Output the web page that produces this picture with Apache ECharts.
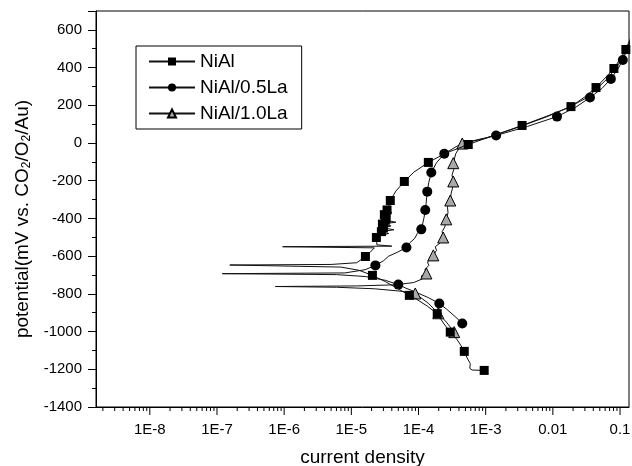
<!DOCTYPE html>
<html>
<head>
<meta charset="utf-8">
<script src="https://cdn.jsdelivr.net/npm/echarts@6/dist/echarts.min.js"></script>
<style>
  html, body { margin: 0; padding: 0; background: #fff; }
  #main { width: 632px; height: 466px; }
</style>
</head>
<body>
<div id="main"></div>
<script>
// polarisation curves, [current density, potential mV]
var niAl = [
  [9.5e-4,-1206],[6.3e-4,-1204],[5.8e-4,-1195],[5.9e-4,-1170],[5.3e-4,-1140],
  [4.8e-4,-1105],[4.3e-4,-1075],[3.7e-4,-1040],[2.97e-4,-1003],[2.4e-4,-960],
  [1.9e-4,-905],[1.35e-4,-865],[9.5e-5,-830],[7.3e-5,-808],[4.8e-5,-770],
  [3.2e-5,-735],[2.06e-5,-702],[1.3e-5,-675],[7e-6,-658],[1.55e-7,-647],
  [5e-6,-644],[1.2e-5,-635],[1.62e-5,-602],[1.9e-5,-580],[2.2e-5,-556],
  [9.5e-7,-550],[4.0e-5,-547],[2.4e-5,-540],[2.36e-5,-501],[2.7e-5,-490],
  [3.6e-5,-480],[2.8e-5,-470],[4.3e-5,-460],[3.0e-5,-450],[3.9e-5,-440],
  [2.9e-5,-430],[4.6e-5,-420],[3.2e-5,-410],[3.3e-5,-400],[3.8e-5,-390],
  [3.1e-5,-380],[4.0e-5,-370],[3.4e-5,-355],[3.6e-5,-335],[3.8e-5,-305],
  [4.6e-5,-255],[6.15e-5,-204],[8.5e-5,-155],[1.4e-4,-103],[2.5e-4,-55],
  [5.5e-4,-8],[1.2e-3,35],[3.48e-3,93],[8.5e-3,145],[1.86e-2,193],
  [3.0e-2,245],[4.39e-2,294],[6.0e-2,345],[8.1e-2,395],[0.10,445],
  [0.122,496],[0.145,560]
];
var niAlMarks = [0,5,8,10,13,16,22,28,31,33,35,37,38,40,42,44,46,48,50,52,54,56,58,60];

var la05 = [
  [4.48e-4,-957],[3.5e-4,-920],[2.6e-4,-880],[2.04e-4,-851],[1.4e-4,-820],
  [9e-5,-790],[6.5e-5,-770],[5.0e-5,-751],[3.2e-5,-728],[1.6e-5,-708],
  [6e-6,-698],[1.2e-7,-693],[8e-6,-689],[1.6e-5,-672],[2.28e-5,-649],
  [3.0e-5,-625],[3.6e-5,-600],[4.8e-5,-580],[6.6e-5,-554],[7.4e-5,-530],
  [8.8e-5,-505],[9.6e-5,-480],[1.10e-4,-458],[1.15e-4,-430],[1.2e-4,-400],
  [1.23e-4,-380],[1.26e-4,-355],[1.3e-4,-320],[1.32e-4,-290],[1.35e-4,-258],
  [1.42e-4,-210],[1.55e-4,-156],[1.85e-4,-105],[2.42e-4,-57],[3.8e-4,-15],
  [6.5e-4,12],[1.43e-3,40],[4.2e-3,88],[1.153e-2,140],[2.2e-2,190],
  [3.57e-2,241],[5.4e-2,290],[7.3e-2,340],[9.2e-2,390],[0.110,440],
  [0.126,490],[0.145,545]
];
var la05Marks = [0,3,7,14,18,22,26,29,31,33,36,38,40,42,44];

var la10 = [
  [3.4e-4,-1003],[2.6e-4,-950],[1.97e-4,-903],[1.4e-4,-850],[8.95e-5,-798],
  [5.5e-5,-786],[2.2e-5,-773],[6e-6,-765],[7.4e-7,-761],[1.2e-5,-758],
  [4.5e-5,-752],[8.5e-5,-740],[1.15e-4,-720],[1.1e-4,-705],[1.31e-4,-692],
  [1.25e-4,-670],[1.42e-4,-650],[1.36e-4,-630],[1.55e-4,-615],[1.66e-4,-596],
  [1.85e-4,-570],[1.78e-4,-550],[2.1e-4,-530],[2.33e-4,-501],[2.25e-4,-470],
  [2.5e-4,-440],[2.45e-4,-425],[2.59e-4,-405],[2.75e-4,-370],[2.7e-4,-340],
  [2.97e-4,-305],[3.05e-4,-270],[3.2e-4,-240],[3.29e-4,-204],[3.15e-4,-170],
  [3.35e-4,-140],[3.29e-4,-107],[3.6e-4,-55],[4.48e-4,-3],[1.0e-3,25],
  [3.3e-3,88],[8e-3,138],[1.7e-2,188],[3.2e-2,240],[4.6e-2,290],
  [6.4e-2,340],[8.4e-2,390],[0.104,440],[0.123,490],[0.145,550]
];
var la10Marks = [0,2,4,14,19,23,27,30,33,36,38];

var xMin = 1.58e-9, xMax = 0.136;
var yMin = -1400, yMax = 700;
var xMajorTicks = [1e-8,1e-7,1e-6,1e-5,1e-4,1e-3,1e-2,1e-1];
var xMinorTicks = [];
for (var n = -9; n <= -1; n++) {
  for (var k = 2; k <= 9; k++) {
    var v = k * Math.pow(10, n);
    if (v > xMin && v < xMax) xMinorTicks.push(v);
  }
}

function withMarks(points, marks) {
  return points.map(function (p, i) {
    return marks.indexOf(i) >= 0 ? { value: p } : { value: p, symbol: 'none' };
  });
}

function tickSeries(values, len) {
  return {
    type: 'custom',
    silent: true,
    clip: false,
    data: values.map(function (v) { return [v, yMin]; }),
    renderItem: function (params, api) {
      var p = api.coord([api.value(0), api.value(1)]);
      return {
        type: 'line',
        shape: { x1: p[0], y1: p[1], x2: p[0], y2: p[1] + len },
        style: { stroke: '#000', lineWidth: 1 }
      };
    }
  };
}

var font = 'Liberation Sans, Arial, sans-serif';
var myChart = echarts.init(document.getElementById('main'));
var option = {
  backgroundColor: '#fff',
  animation: false,
  grid: {
    left: 96, right: 3, top: 11, bottom: 59,
    outerBoundsMode: 'none',
    show: true, borderColor: '#000', borderWidth: 1
  },
  legend: {
    data: ['NiAl', 'NiAl/0.5La', 'NiAl/1.0La'],
    orient: 'vertical',
    left: 136, top: 46,
    padding: [6, 14, 6, 12],
    itemWidth: 46, itemHeight: 10, itemGap: 7,
    borderColor: '#000', borderWidth: 1,
    textStyle: { fontSize: 19, fontFamily: font, color: '#000' }
  },
  xAxis: {
    type: 'log',
    min: xMin, max: xMax,
    name: 'current density',
    nameLocation: 'middle',
    nameGap: 41,
    nameTextStyle: { fontSize: 19, fontFamily: font, color: '#000' },
    axisLine: { onZero: false, lineStyle: { color: '#000', width: 1 } },
    axisTick: { show: false },
    splitLine: { show: false },
    axisLabel: {
      margin: 15, fontSize: 15, fontFamily: font, color: '#000',
      showMinLabel: false, showMaxLabel: false,
      formatter: function (v) {
        var e = Math.log10(v), n = Math.round(e);
        if (Math.abs(e - n) > 1e-6) return '';
        if (n === -1) return '0.1';
        if (n === -2) return '0.01';
        return '1E' + n;
      }
    }
  },
  yAxis: {
    type: 'value',
    min: yMin, max: yMax, interval: 200,
    name: 'potential(mV vs. CO{s|2}/O{s|2}/Au)',
    nameLocation: 'middle',
    nameGap: 62,
    nameTextStyle: {
      fontSize: 19, fontFamily: font, color: '#000', padding: [0, 0, 0, -20],
      rich: { s: { fontSize: 12, fontFamily: font, color: '#000', verticalAlign: 'bottom', padding: [8, 0, 0, 0] } }
    },
    axisLine: { onZero: false, lineStyle: { color: '#000', width: 1 } },
    axisTick: { length: 8, lineStyle: { color: '#000' } },
    minorTick: { show: true, splitNumber: 2, length: 4, lineStyle: { color: '#000' } },
    splitLine: { show: false },
    axisLabel: {
      margin: 14, fontSize: 15, fontFamily: font, color: '#000', showMaxLabel: false,
      formatter: function (v) { return String(v); }
    }
  },
  series: [
    {
      name: 'NiAl', type: 'line', z: 4,
      symbol: 'rect', symbolSize: 9, showAllSymbol: true,
      lineStyle: { color: '#111', width: 1 },
      itemStyle: { color: '#000' },
      data: withMarks(niAl, niAlMarks)
    },
    {
      name: 'NiAl/0.5La', type: 'line', z: 3,
      symbol: 'circle', symbolSize: 10, showAllSymbol: true,
      lineStyle: { color: '#111', width: 1 },
      itemStyle: { color: '#000' },
      data: withMarks(la05, la05Marks)
    },
    {
      name: 'NiAl/1.0La', type: 'line', z: 3,
      symbol: 'triangle', symbolSize: 11, showAllSymbol: true,
      lineStyle: { color: '#111', width: 1 },
      itemStyle: { color: '#a8a8a8', borderColor: '#000', borderWidth: 1 },
      data: withMarks(la10, la10Marks)
    },
    tickSeries(xMajorTicks, 8),
    tickSeries(xMinorTicks, 4)
  ]
};
myChart.setOption(option);
</script>
</body>
</html>
